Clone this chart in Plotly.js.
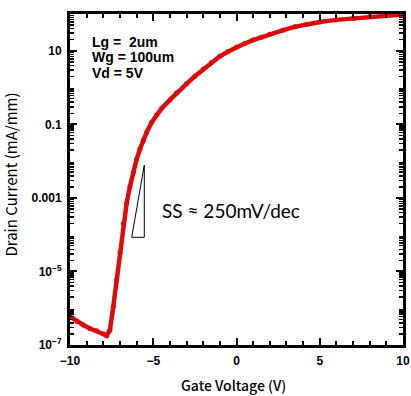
<!DOCTYPE html>
<html>
<head>
<meta charset="utf-8">
<script src="https://cdn.plot.ly/plotly-3.0.1.min.js"></script>
<style>
  html, body { margin: 0; padding: 0; background: #fff; }
  #plot { width: 411px; height: 396px; }
</style>
</head>
<body>
<div id="plot"></div>
<script>
// Transfer curve: gate voltage (V) vs drain current (mA/mm)
const gateVoltage = [
  -10.0, -9.6, -9.2, -8.8, -8.4, -8.0, -7.8, -7.6, -7.4, -7.2,
  -7.0, -6.8, -6.6, -6.4, -6.2, -6.0, -5.8, -5.6, -5.4, -5.1,
  -4.8, -4.5, -4.0, -3.6, -3.0, -2.5, -2.0, -1.5, -1.0, -0.5,
  0.0, 0.5, 1.0, 1.5, 2.0, 2.8, 3.5, 4.2, 5.0, 6.0,
  7.0, 8.0, 9.0, 10.0
];
const drainCurrent = [
  5.9e-7, 4.4e-7, 3.5e-7, 2.8e-7, 2.45e-7, 2.0e-7, 1.78e-7, 2.57e-7, 1.1e-6, 5.9e-6,
  3.2e-5, 2.0e-4, 7.1e-4, 2.0e-3, 5.0e-3, 1.12e-2, 2.1e-2, 3.7e-2, 6.0e-2, 0.112,
  0.178, 0.27, 0.46, 0.71, 1.26, 2.04, 3.16, 4.8, 7.1, 9.5,
  12.6, 15.8, 19.5, 23.4, 28.2, 36.3, 44.7, 52.5, 60.3, 69.2,
  75.9, 85.1, 93.3, 97.7
];

// Axis ticks
const xTickVals = [-10, -5, 0, 5, 10];
const yTickVals = [1e-7, 1e-5, 1e-3, 0.1, 10];
const yTickText = ['10<sup>\u22127</sup>', '10<sup>\u22125</sup>', '0.001', '0.1', '10'];
const yUnlabeledDecades = [1e-6, 1e-4, 1e-2, 1, 100];

// Minor ticks for each decade (2..9 x 10^n)
const yMinorVals = [];
for (let e = -7; e < 2; e++) {
  for (let m = 2; m <= 9; m++) yMinorVals.push(m * Math.pow(10, e));
}

const xTitle = 'Gate Voltage (V)';
const yTitle = 'Drain Current (mA/mm)';
const deviceNotes = ['Lg =  2um', 'Wg = 100um', 'Vd = 5V'];
const slopeNote = 'SS \u2248 250mV/dec';

const red = 'rgb(222,10,10)';

const trace = {
  x: gateVoltage,
  y: drainCurrent,
  type: 'scatter',
  mode: 'lines+markers',
  line: { color: red, width: 4.5 },
  marker: { color: red, size: 5 },
  hoverinfo: 'skip'
};

const tickFont = { family: 'Liberation Sans, Arial, sans-serif', size: 12, color: '#000', weight: 'bold' };
const titleFont = { family: 'Noto Sans CJK JP, sans-serif', color: '#000' };

const logRange = [-7, 2];

const layout = {
  width: 411,
  height: 396,
  margin: { l: 70, r: 8, t: 14, b: 51 },
  paper_bgcolor: '#fff',
  plot_bgcolor: '#fff',
  showlegend: false,
  xaxis: {
    range: [-10, 10],
    tickmode: 'array',
    tickvals: xTickVals,
    ticks: 'inside',
    ticklen: 7,
    tickwidth: 2,
    tickcolor: '#000',
    ticklabelstandoff: 3,
    minor: { ticks: 'inside', dtick: 1, ticklen: 4, tickwidth: 2, tickcolor: '#000' },
    showline: true,
    linewidth: 3,
    linecolor: '#000',
    mirror: 'ticks',
    showgrid: false,
    zeroline: false,
    tickfont: tickFont
  },
  yaxis: {
    type: 'log',
    range: logRange,
    tickmode: 'array',
    tickvals: yTickVals,
    ticktext: yTickText,
    ticks: 'inside',
    ticklen: 7,
    tickwidth: 2,
    tickcolor: '#000',
    ticklabelstandoff: 3,
    minor: { ticks: 'inside', tickmode: 'array', tickvals: yMinorVals, ticklen: 4, tickwidth: 1.5, tickcolor: '#000' },
    showline: true,
    linewidth: 3,
    linecolor: '#000',
    mirror: 'ticks',
    showgrid: false,
    zeroline: false,
    tickfont: tickFont
  },
  // second axis carries the major ticks of the unlabeled decades
  yaxis2: {
    type: 'log',
    range: logRange,
    overlaying: 'y',
    anchor: 'x',
    side: 'left',
    tickmode: 'array',
    tickvals: yUnlabeledDecades,
    showticklabels: false,
    ticks: 'inside',
    ticklen: 7,
    tickwidth: 2,
    tickcolor: '#000',
    showline: true,
    linewidth: 3,
    linecolor: '#000',
    mirror: 'ticks',
    showgrid: false,
    zeroline: false
  },
  annotations: [
    {
      text: xTitle,
      xref: 'paper', yref: 'paper',
      x: 0.49, y: -0.12,
      xanchor: 'center', yanchor: 'middle',
      showarrow: false,
      font: Object.assign({ size: 14, weight: 500 }, titleFont)
    },
    {
      text: yTitle,
      xref: 'paper', yref: 'paper',
      x: -0.18, y: 0.515,
      xanchor: 'center', yanchor: 'middle',
      textangle: -90,
      showarrow: false,
      font: Object.assign({ size: 15 }, titleFont)
    },
    ...deviceNotes.map((t, i) => ({
      text: t,
      xref: 'paper', yref: 'paper',
      x: 0.06, y: 0.915 - i * 0.046,
      xanchor: 'left', yanchor: 'middle',
      showarrow: false,
      font: { family: 'Liberation Sans, Arial, sans-serif', size: 14, color: '#000', weight: 'bold' }
    })),
    {
      text: slopeNote,
      xref: 'x', yref: 'y',
      x: -4.62, y: -3.33,
      xanchor: 'left', yanchor: 'middle',
      showarrow: false,
      font: { family: 'Lato, Open Sans, sans-serif', size: 19, color: '#000' }
    }
  ],
  shapes: [
    {
      type: 'path',
      xref: 'paper', yref: 'paper',
      path: 'M 0.2231,0.5438 L 0.2231,0.3254 L 0.1853,0.3254 Z',
      line: { color: '#000', width: 1 },
      fillcolor: 'rgba(0,0,0,0)'
    }
  ]
};

Plotly.newPlot('plot', [trace], layout, { staticPlot: true, displayModeBar: false });
</script>
</body>
</html>
